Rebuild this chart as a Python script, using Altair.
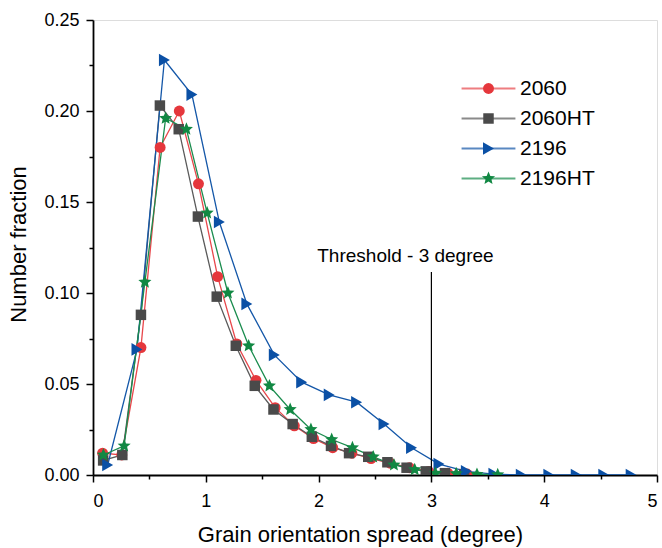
import altair as alt
import pandas as pd

FONT = "Liberation Sans"

series_names = ["2060", "2060HT", "2196", "2196HT"]

x_2060 = [0.085, 0.255, 0.425, 0.595, 0.765, 0.935, 1.105, 1.275, 1.445, 1.615,
          1.785, 1.955, 2.125, 2.295, 2.465, 2.635, 2.805, 2.975, 3.145, 3.315]
y_2060 = [0.012, 0.011, 0.070, 0.180, 0.200, 0.160, 0.109, 0.072, 0.052, 0.037,
          0.027, 0.020, 0.015, 0.012, 0.009, 0.0065, 0.004, 0.002, 0.001, 0.0005]

x_2060ht = [0.09, 0.26, 0.425, 0.593, 0.76, 0.93, 1.097, 1.266, 1.434, 1.60,
            1.77, 1.94, 2.11, 2.27, 2.44, 2.61, 2.78, 2.95, 3.12, 3.29]
y_2060ht = [0.008, 0.011, 0.088, 0.203, 0.190, 0.142, 0.098, 0.071, 0.049, 0.036,
            0.028, 0.021, 0.016, 0.012, 0.010, 0.007, 0.004, 0.002, 0.001, 0.0005]

x_2196 = [0.13, 0.39, 0.633, 0.877, 1.12, 1.364, 1.607, 1.85, 2.094, 2.337,
          2.58, 2.824, 3.067, 3.31, 3.554, 3.797, 4.041, 4.284, 4.528, 4.771]
y_2196 = [0.0055, 0.069, 0.228, 0.209, 0.139, 0.094, 0.066, 0.051, 0.044, 0.040,
          0.028, 0.015, 0.006, 0.002, 0.0005, 0.0, 0.0, 0.0, 0.0, 0.0]

x_2196ht = [0.092, 0.276, 0.46, 0.644, 0.828, 1.012, 1.196, 1.38, 1.564, 1.748,
            1.932, 2.116, 2.3, 2.484, 2.668, 2.852, 3.036, 3.22, 3.404, 3.588]
y_2196ht = [0.011, 0.016, 0.106, 0.196, 0.190, 0.144, 0.100, 0.071, 0.049, 0.036,
            0.025, 0.0195, 0.015, 0.010, 0.0055, 0.003, 0.001, 0.0008, 0.0004, 0.0002]

x_ticks = [0, 1, 2, 3, 4, 5]
x_minor = [0.5, 1.5, 2.5, 3.5, 4.5]
y_ticks = [0.0, 0.05, 0.10, 0.15, 0.20, 0.25]
y_minor = [0.025, 0.075, 0.125, 0.175, 0.225]

threshold_x = 3.0
threshold_top = 0.1115
threshold_label = "Threshold - 3 degree"
label_x = 2.77
label_y = 0.1205

line_colors = ["#E8474B", "#5A5A5A", "#1457A8", "#1A8C4E"]
mark_colors = ["#E5373C", "#4A4A4A", "#0B50A5", "#118843"]
STAR = ("M0,-1L0.27,-0.36L0.951,-0.309L0.43,0.14L0.588,0.809L0,0.45"
        "L-0.588,0.809L-0.43,0.14L-0.951,-0.309L-0.27,-0.36Z")
shapes = ["circle", "square", "triangle-right", STAR]
sizes = [120, 110, 160, 190]
LEGEND_LINE = "M-5,0H5"

rows = []
for name, xs, ys in zip(series_names,
                        [x_2060, x_2060ht, x_2196, x_2196ht],
                        [y_2060, y_2060ht, y_2196, y_2196ht]):
    for xv, yv in zip(xs, ys):
        rows.append({"series": name, "series2": name, "x": xv, "y": yv})
df = pd.DataFrame(rows)

x_scale = alt.Scale(domain=[0, 5], nice=False, zero=False)
y_scale = alt.Scale(domain=[0, 0.25], nice=False)

common = dict(domainColor="black", tickColor="black", labelColor="black",
              titleColor="black", labelFont=FONT, titleFont=FONT, grid=False)

x_axis = alt.Axis(values=x_ticks, format="d", orient="bottom", tickSize=7, tickWidth=1.5,
                  domainWidth=1.8, labelFontSize=18, labelPadding=10,
                  title="Grain orientation spread (degree)", titleFontSize=22,
                  titleFontWeight="normal", titlePadding=14, titleX=267,
                  titleAlign="center", **common)
y_axis = alt.Axis(values=y_ticks, format=".2f", orient="left", tickSize=7, tickWidth=1.5,
                  domainWidth=1.8, labelFontSize=18, labelPadding=7,
                  title="Number fraction", titleFontSize=22,
                  titleFontWeight="normal", titlePadding=13, titleY=224,
                  titleAlign="center", **common)
x_minor_axis = alt.Axis(values=x_minor, orient="bottom", tickSize=4, tickWidth=1.5,
                        domain=False, labels=False, title="", **common)
y_minor_axis = alt.Axis(values=y_minor, orient="left", tickSize=4, tickWidth=1.5,
                        domain=False, labels=False, title="", **common)

LEG = dict(orient="none", legendX=385, legendY=58, title=None, symbolSize=116,
           labelFontSize=21, labelFont=FONT, labelColor="black",
           labelOffset=21, rowPadding=8, padding=0)

lines = alt.Chart(df).mark_line(strokeWidth=1.3, clip=True).encode(
    x=alt.X("x:Q", scale=x_scale, axis=x_axis),
    y=alt.Y("y:Q", scale=y_scale, axis=y_axis),
    stroke=alt.Stroke("series:N", scale=alt.Scale(range=line_colors),
                      legend=alt.Legend(symbolType=LEGEND_LINE, symbolStrokeWidth=2,
                                        symbolOpacity=0.7, **LEG)),
)

points = alt.Chart(df).mark_point(filled=True, clip=True, opacity=1, strokeWidth=0).encode(
    x=alt.X("x:Q", axis=None),
    y=alt.Y("y:Q", axis=None),
    color=alt.Color("series2:N", scale=alt.Scale(range=mark_colors),
                    legend=alt.Legend(symbolStrokeWidth=0, symbolOpacity=1,
                                      labelOpacity=0, **LEG)),
    shape=alt.Shape("series2:N", scale=alt.Scale(range=shapes),
                    legend=alt.Legend(symbolStrokeWidth=0, symbolOpacity=1,
                                      labelOpacity=0, **LEG)),
    size=alt.Size("series2:N", scale=alt.Scale(type="ordinal", range=sizes), legend=None),
)

one = pd.DataFrame({"k": [0]})
rule = alt.Chart(one).mark_rule(color="black", strokeWidth=1.2).encode(
    x=alt.XDatum(threshold_x, type="quantitative", axis=x_minor_axis),
    y=alt.YDatum(0, type="quantitative", axis=y_minor_axis),
    y2=alt.Y2Datum(threshold_top),
)

label = alt.Chart(one).mark_text(fontSize=19, font=FONT, align="center",
                                 baseline="middle", color="black").encode(
    x=alt.XDatum(label_x, type="quantitative", axis=None),
    y=alt.YDatum(label_y, type="quantitative", axis=None),
    text=alt.value(threshold_label),
)

chart = alt.layer(lines, points, rule, label).resolve_axis(
    x="independent", y="independent"
).properties(
    width=564, height=455,
    autosize=alt.AutoSizeParams(type="none"),
    padding={"left": 93, "top": 20, "right": 5, "bottom": 73},
).configure_view(stroke=None).configure(font=FONT).configure_axis(grid=False)

chart.save("out.html", embed_options={"renderer": "svg", "actions": False})
